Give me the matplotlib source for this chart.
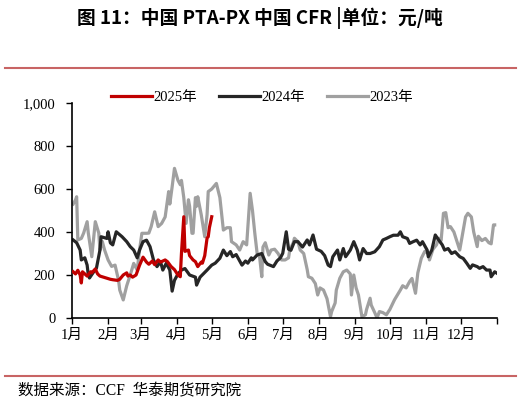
import matplotlib
matplotlib.use('Agg')
import matplotlib.pyplot as plt
from matplotlib.ticker import FuncFormatter

# data: day of year, value (yuan/ton)
d2025 = [1, 3, 5, 7, 8, 9, 11, 13, 16, 17, 20, 22, 24, 27, 30, 33, 35, 39, 41, 44, 47, 48, 50, 52,
         55, 58, 61, 64, 66, 69, 71, 74, 76, 80, 82, 85, 88, 91, 93, 94, 96, 97, 100, 101, 104,
         106, 108, 111, 112, 114, 116, 117, 118, 120]
v2025 = [215, 205, 222, 200, 163, 215, 205, 195, 215, 210, 228, 205, 195, 190, 185, 180, 178, 175,
         180, 200, 210, 195, 200, 190, 200, 245, 283, 260, 250, 265, 248, 270, 260, 270, 262, 240,
         225, 200, 192, 300, 471, 310, 316, 290, 270, 262, 239, 260, 255, 290, 372, 378, 420, 471]

d2024 = [1, 4, 7, 8, 11, 13, 14, 15, 18, 21, 24, 25, 30, 31, 33, 35, 38, 43, 47, 50, 53, 56, 58,
         61, 64, 67, 70, 73, 76, 78, 81, 84, 86, 88, 91, 94, 97, 101, 106, 107, 110, 116, 120, 123,
         127, 130, 133, 136, 138, 141, 146, 149, 151, 154, 155, 159, 163, 166, 168, 173, 176, 179,
         181, 184, 186, 188, 191, 194, 198, 202, 204, 207, 210, 214, 217, 220, 222, 224, 228, 230,
         233, 235, 239, 242, 245, 247, 250, 253, 256, 260, 264, 267, 270, 273, 276, 280, 282, 284,
         288, 290, 293, 296, 299, 301, 305, 306, 309, 312, 314, 318, 320, 323, 326, 329, 333, 336,
         339, 342, 344, 348, 350, 353, 356, 359, 360, 363, 365]
v2024 = [363, 350, 316, 270, 280, 246, 200, 186, 210, 232, 316, 378, 370, 401, 349, 340, 401, 378,
         355, 332, 316, 280, 316, 355, 362, 332, 270, 239, 262, 223, 255, 223, 125, 175, 205, 223,
         230, 200, 190, 153, 190, 223, 246, 255, 278, 316, 290, 309, 285, 295, 246, 265, 255, 280,
         270, 293, 300, 262, 250, 239, 265, 280, 301, 401, 320, 315, 355, 355, 330, 363, 340, 386,
         320, 310, 290, 246, 239, 285, 316, 270, 323, 285, 316, 355, 316, 270, 323, 300, 300, 308,
         332, 363, 370, 378, 385, 385, 401, 378, 370, 347, 355, 362, 340, 355, 316, 285, 316, 386,
         370, 340, 316, 323, 300, 308, 285, 277, 255, 231, 247, 239, 231, 239, 223, 223, 192, 215,
         208]

d2023 = [1, 3, 4, 5, 8, 10, 13, 14, 17, 20, 23, 24, 26, 28, 31, 34, 37, 40, 41, 44, 47, 50, 53,
         56, 58, 60, 64, 66, 68, 71, 74, 77, 80, 83, 84, 86, 88, 91, 93, 94, 96, 97, 98, 100, 101,
         103, 104, 106, 107, 108, 111, 114, 116, 117, 120, 123, 124, 127, 130, 133, 136, 137, 141,
         144, 147, 150, 153, 155, 157, 159, 161, 163, 164, 166, 169, 171, 174, 177, 180, 183, 186,
         187, 190, 191, 194, 196, 199, 202, 203, 206, 209, 211, 213, 216, 219, 222, 223, 226, 227,
         230, 233, 236, 239, 240, 242, 244, 246, 249, 252, 253, 256, 257, 260, 262, 264, 267, 270,
         273, 277, 282, 284, 287, 290, 292, 295, 297, 300, 303, 306, 307, 310, 313, 315, 317, 319,
         321, 323, 325, 328, 331, 333, 336, 338, 340, 343, 345, 348, 349, 352, 355, 358, 360, 362,
         363]
v2023 = [530, 549, 564, 363, 370, 395, 448, 395, 285, 448, 395, 316, 356, 316, 270, 240, 246, 175,
         130, 84, 150, 200, 254, 223, 316, 394, 394, 395, 425, 494, 425, 440, 470, 588, 530, 610,
         696, 640, 620, 640, 560, 500, 440, 550, 520, 394, 394, 560, 520, 564, 480, 378, 480, 588,
         600, 619, 626, 560, 409, 420, 420, 355, 340, 316, 355, 340, 580, 500, 394, 300, 290, 192,
         330, 350, 293, 316, 320, 300, 270, 270, 280, 316, 350, 371, 355, 316, 300, 225, 192, 185,
         160, 107, 140, 130, 90, 6, 30, 70, 130, 185, 215, 223, 205, 107, 200, 140, 107, 6, 15, 40,
         92, 60, 25, 0, 30, 25, 15, 40, 85, 130, 150, 140, 170, 184, 115, 210, 278, 310, 300, 270,
         320, 340, 371, 360, 487, 490, 420, 425, 400, 350, 316, 410, 470, 487, 470, 400, 332, 380,
         360, 370, 350, 345, 433, 433]

month_days = [0, 31, 59, 90, 120, 151, 181, 212, 243, 273, 304, 334, 365]
month_labels = ['1月', '2月', '3月', '4月', '5月', '6月', '7月', '8月', '9月', '10月', '11月', '12月', '']

serif = ['Liberation Serif', 'Noto Sans CJK SC']
cjk = ['Noto Sans CJK SC', 'DejaVu Sans']

fig = plt.figure(figsize=(5.21, 4.05), dpi=100)
ax = fig.add_axes([72 / 521, 1 - 318 / 405, 425 / 521, 215 / 405])

ax.plot(d2025, v2025, color='#C00000', lw=2.3, label='2025年', zorder=3)
ax.plot(d2024, v2024, color='#262626', lw=2.3, label='2024年', zorder=2)
ax.plot(d2023, v2023, color='#A0A0A0', lw=2.3, label='2023年', zorder=1)

ax.set_xlim(0, 365)
ax.set_ylim(0, 1000)
ax.set_xticks(month_days)
ax.set_xticklabels(month_labels, family=serif, fontsize=10.5)
ax.set_yticks([0, 200, 400, 600, 800, 1000])
ax.yaxis.set_major_formatter(FuncFormatter(lambda v, p: f'{int(v):,}'))
for t in ax.get_yticklabels():
    t.set_family(serif)
    t.set_fontsize(10.5)
ax.tick_params(direction='out', length=4, width=1, colors='#000000', pad=4)
ax.tick_params(axis='y', pad=8)
for s in ['top', 'right']:
    ax.spines[s].set_visible(False)
for s in ['left', 'bottom']:
    ax.spines[s].set_linewidth(1.2)

leg = fig.legend(loc='center', bbox_to_anchor=(262 / 521, 1 - 97 / 405), ncol=3, frameon=False,
                 handlelength=2.8, handletextpad=0.1, columnspacing=1.5,
                 prop={'family': serif, 'size': 10.5})

fig.text(260 / 521, 1 - 18 / 405, '图 11：中国 PTA-PX 中国 CFR |单位：元/吨', ha='center', va='center',
         family=cjk, fontsize=13.5, fontweight='bold')
fig.add_artist(plt.Line2D([5 / 521, 516 / 521], [1 - 68 / 405] * 2, color='#C86464', lw=1.5))
fig.add_artist(plt.Line2D([5 / 521, 516 / 521], [1 - 376 / 405] * 2, color='#C86464', lw=1.5))
fig.text(18 / 521, 1 - 391 / 405, '数据来源：CCF  华泰期货研究院', ha='left', va='center',
         family=serif, fontsize=11.2)

fig.savefig('out.png', dpi=100)
